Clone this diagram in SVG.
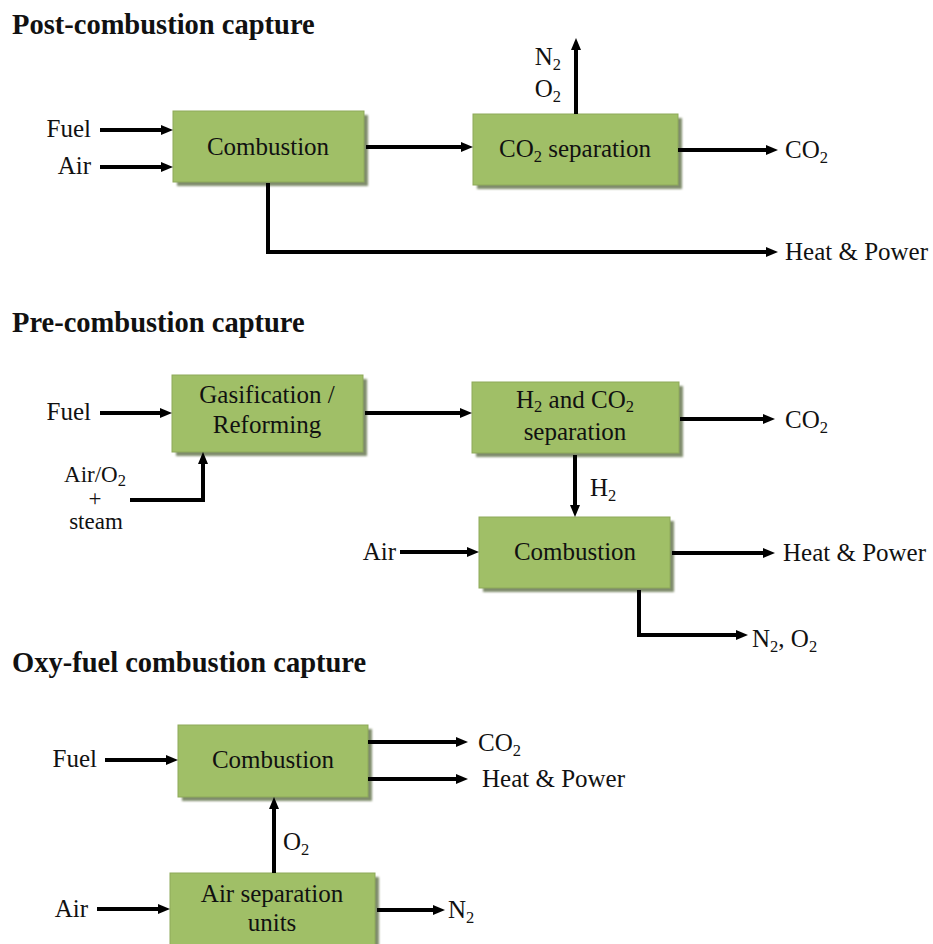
<svg xmlns="http://www.w3.org/2000/svg" width="933" height="944" viewBox="0 0 933 944" font-family="'Liberation Serif', 'Times New Roman', Tinos, 'DejaVu Serif', serif">
<style>
text{font-family:'Liberation Serif','Times New Roman',Tinos,'DejaVu Serif',serif;fill:#111;}
.t{font-size:28.5px;font-weight:bold;}
.b{font-size:25px;text-anchor:middle;}
.l{font-size:25px;}
.k{font-size:23px;text-anchor:middle;}
.e{text-anchor:end;}
.s{font-size:16.5px;}
.box{fill:#a0bf67;stroke:#8ea95a;stroke-width:1;}
.sh{fill:#55663a;opacity:0.75;filter:url(#blur);}
.c{fill:none;stroke:#000;stroke-width:4;}
.a{marker-end:url(#ah);}
</style>
<defs>
<filter id="blur" x="-10%" y="-10%" width="120%" height="120%"><feGaussianBlur stdDeviation="1"/></filter>
<marker id="ah" viewBox="0 0 12 10" refX="4" refY="5" markerWidth="12" markerHeight="10" markerUnits="userSpaceOnUse" orient="auto"><path d="M0,0 L12,5 L0,10 z" fill="#000"/></marker>
</defs>
<rect width="933" height="944" fill="#fff"/>

<text class="t" x="12" y="34">Post-combustion capture</text>
<text class="t" x="12" y="332">Pre-combustion capture</text>
<text class="t" x="12" y="672">Oxy-fuel combustion capture</text>

<g id="post-combustion">
<rect class="sh" x="177" y="115" width="191" height="71"/>
<rect class="box" x="173" y="111" width="191" height="71"/>
<text class="b" x="268" y="155">Combustion</text>
</g>
<g id="post-co2sep">
<rect class="sh" x="477" y="118" width="205" height="71"/>
<rect class="box" x="473" y="114" width="205" height="71"/>
<text class="b" x="575" y="157">CO<tspan class="s" dy="5">2</tspan><tspan dy="-5"> separation</tspan></text>
</g>
<g id="pre-gasification">
<rect class="sh" x="176" y="379" width="191" height="77"/>
<rect class="box" x="172" y="375" width="191" height="77"/>
<text class="b" x="267" y="403">Gasification /</text>
<text class="b" x="267" y="433">Reforming</text>
</g>
<g id="pre-h2sep">
<rect class="sh" x="476" y="386" width="207" height="71"/>
<rect class="box" x="472" y="382" width="207" height="71"/>
<text class="b" x="575" y="408">H<tspan class="s" dy="4">2</tspan><tspan dy="-4"> and CO</tspan><tspan class="s" dy="4">2</tspan></text>
<text class="b" x="575" y="440">separation</text>
</g>
<g id="pre-combustion">
<rect class="sh" x="483" y="521" width="191" height="71"/>
<rect class="box" x="479" y="517" width="191" height="71"/>
<text class="b" x="575" y="560">Combustion</text>
</g>
<g id="oxy-combustion">
<rect class="sh" x="182" y="729" width="190" height="72"/>
<rect class="box" x="178" y="725" width="190" height="72"/>
<text class="b" x="273" y="768">Combustion</text>
</g>
<g id="oxy-asu">
<rect class="sh" x="174" y="877" width="205" height="80"/>
<rect class="box" x="170" y="873" width="205" height="80"/>
<text class="b" x="272" y="902">Air separation</text>
<text class="b" x="272" y="931">units</text>
</g>

<g id="connectors">
<line class="c a" x1="100" y1="130" x2="165" y2="130"/>
<line class="c a" x1="100" y1="167" x2="165" y2="167"/>
<line class="c a" x1="366" y1="147" x2="465" y2="147"/>
<line class="c a" x1="576" y1="114" x2="576" y2="46"/>
<line class="c a" x1="678" y1="150" x2="770" y2="150"/>
<polyline class="c a" points="268,183 268,252 770,252"/>

<line class="c a" x1="100" y1="413" x2="164" y2="413"/>
<polyline class="c a" points="130,500 203,500 203,460"/>
<line class="c a" x1="365" y1="413" x2="464" y2="413"/>
<line class="c a" x1="680" y1="419" x2="767" y2="419"/>
<line class="c a" x1="575" y1="455" x2="575" y2="509"/>
<line class="c a" x1="400" y1="552" x2="471" y2="552"/>
<line class="c a" x1="672" y1="553" x2="767" y2="553"/>
<polyline class="c a" points="639,590 639,635 740,635"/>

<line class="c a" x1="105" y1="760" x2="170" y2="760"/>
<line class="c a" x1="368" y1="742" x2="460" y2="742"/>
<line class="c a" x1="368" y1="779" x2="460" y2="779"/>
<line class="c a" x1="274" y1="873" x2="274" y2="805"/>
<line class="c a" x1="97" y1="909" x2="162" y2="909"/>
<line class="c a" x1="377" y1="910" x2="437" y2="910"/>
</g>

<g id="labels">
<text class="l e" x="91" y="137">Fuel</text>
<text class="l e" x="91" y="174">Air</text>
<text class="l e" x="561" y="65">N<tspan class="s" dy="5">2</tspan></text>
<text class="l e" x="561" y="97">O<tspan class="s" dy="5">2</tspan></text>
<text class="l" x="785" y="158">CO<tspan class="s" dy="5">2</tspan></text>
<text class="l" x="785" y="260">Heat &amp; Power</text>

<text class="l e" x="91" y="420">Fuel</text>
<text class="k" x="95" y="482">Air/O<tspan class="s" dy="4">2</tspan></text>
<text class="k" x="95" y="506">+</text>
<text class="k" x="96" y="529">steam</text>
<text class="l" x="785" y="428">CO<tspan class="s" dy="5">2</tspan></text>
<text class="l" x="590" y="496">H<tspan class="s" dy="5">2</tspan></text>
<text class="l e" x="396" y="560">Air</text>
<text class="l" x="783" y="561">Heat &amp; Power</text>
<text class="l" x="752" y="647">N<tspan class="s" dy="5">2</tspan><tspan dy="-5">, O</tspan><tspan class="s" dy="5">2</tspan></text>

<text class="l e" x="97" y="767">Fuel</text>
<text class="l" x="478" y="751">CO<tspan class="s" dy="5">2</tspan></text>
<text class="l" x="482" y="787">Heat &amp; Power</text>
<text class="l" x="283" y="850">O<tspan class="s" dy="5">2</tspan></text>
<text class="l e" x="88" y="917">Air</text>
<text class="l" x="448" y="918">N<tspan class="s" dy="5">2</tspan></text>
</g>
</svg>
